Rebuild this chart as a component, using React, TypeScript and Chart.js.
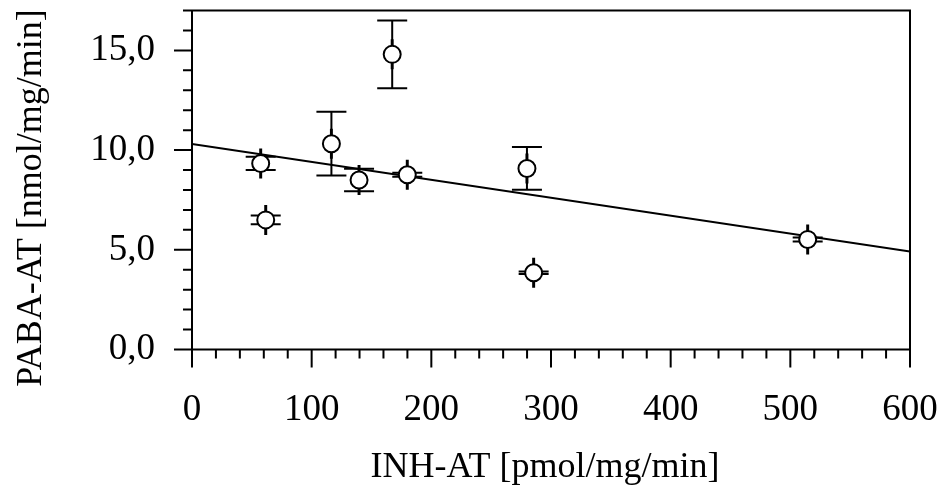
import { useEffect, useRef } from "react";
import { Chart, registerables } from "chart.js";

Chart.register(...registerables);

// INH-AT activity (x) versus PABA-AT activity (y), with standard errors
const inhAT = [57.4, 61.6, 116.5, 139.6, 167.3, 179.9, 279.9, 285.5, 514.5];
const pabaAT = [9.33, 6.5, 10.32, 8.5, 14.8, 8.76, 9.08, 3.85, 5.52];
const pabaErr = [0.33, 0.22, 1.6, 0.56, 1.7, 0.1, 1.07, 0.06, 0.1];
const inhErr = [0.4, 0.4, 0.4, 0.4, 0.4, 0.4, 0.4, 0.4, 0.4];

// linear regression line
const fitX = [0, 600];
const fitY = [10.3, 4.92];

// axes
const xTickValues = [0, 100, 200, 300, 400, 500, 600];
const yTickValues = [0, 5, 10, 15];
const xMinorStep = 20;
const yMinorStep = 1;
const xRange = [0, 600];
const yRange = [0, 17];

const xTitle = "INH-AT [pmol/mg/min]";
const yTitle = "PABA-AT [nmol/mg/min]";

const FONT = "'Liberation Serif', 'Times New Roman', serif";
const CAP = 15;
const MAJOR_LEN = 18;
const MINOR_LEN = 9;

const errorBars = {
  id: "errorBars",
  beforeDatasetsDraw(chart: any) {
    const { ctx, scales } = chart;
    const x = scales.x;
    const y = scales.y;
    ctx.save();
    ctx.strokeStyle = "#000";
    ctx.lineWidth = 2;
    ctx.lineCap = "butt";
    for (let i = 0; i < inhAT.length; i++) {
      const px = x.getPixelForValue(inhAT[i]);
      const py = y.getPixelForValue(pabaAT[i]);
      const yTop = y.getPixelForValue(pabaAT[i] + pabaErr[i]);
      const yBot = y.getPixelForValue(pabaAT[i] - pabaErr[i]);
      const xL = x.getPixelForValue(inhAT[i] - inhErr[i]);
      const xR = x.getPixelForValue(inhAT[i] + inhErr[i]);
      ctx.beginPath();
      // vertical error bar with caps
      ctx.moveTo(px, yTop);
      ctx.lineTo(px, yBot);
      ctx.moveTo(px - CAP, yTop);
      ctx.lineTo(px + CAP, yTop);
      ctx.moveTo(px - CAP, yBot);
      ctx.lineTo(px + CAP, yBot);
      // horizontal error bar with caps
      ctx.moveTo(xL, py);
      ctx.lineTo(xR, py);
      ctx.moveTo(xL, py - CAP);
      ctx.lineTo(xL, py + CAP);
      ctx.moveTo(xR, py - CAP);
      ctx.lineTo(xR, py + CAP);
      ctx.stroke();
    }
    ctx.restore();
  },
};

const frameAndTicks = {
  id: "frameAndTicks",
  afterDatasetsDraw(chart: any) {
    const { ctx, chartArea: a, scales } = chart;
    const x = scales.x;
    const y = scales.y;
    ctx.save();
    ctx.strokeStyle = "#000";
    ctx.lineWidth = 2;
    ctx.beginPath();
    ctx.rect(a.left, a.top, a.right - a.left, a.bottom - a.top);
    for (let v = xRange[0]; v <= xRange[1] + 1e-9; v += xMinorStep) {
      const px = x.getPixelForValue(v);
      const len = xTickValues.includes(v) ? MAJOR_LEN : MINOR_LEN;
      ctx.moveTo(px, a.bottom);
      ctx.lineTo(px, a.bottom + len);
    }
    for (let v = yRange[0]; v <= yRange[1] + 1e-9; v += yMinorStep) {
      const py = y.getPixelForValue(v);
      const len = yTickValues.includes(v) ? MAJOR_LEN : MINOR_LEN;
      ctx.moveTo(a.left, py);
      ctx.lineTo(a.left - len, py);
    }
    ctx.stroke();
    ctx.restore();
  },
};

// axis titles
const axisTitles = {
  id: "axisTitles",
  afterDraw(chart: any) {
    const { ctx } = chart;
    ctx.save();
    ctx.fillStyle = "#000";
    ctx.textAlign = "center";
    ctx.textBaseline = "middle";
    ctx.font = `36px ${FONT}`;
    ctx.fillText(xTitle, 545, 468);
    ctx.translate(32, 198);
    ctx.rotate(-Math.PI / 2);
    ctx.font = `36px ${FONT}`;
    ctx.fillText(yTitle, 0, 0);
    ctx.restore();
  },
};

const zeroPadding = (s: any) => {
  s.paddingTop = 0;
  s.paddingBottom = 0;
  s.paddingLeft = 0;
  s.paddingRight = 0;
};

export default function App() {
  const canvasRef = useRef<HTMLCanvasElement | null>(null);

  useEffect(() => {
    const canvas = canvasRef.current;
    if (!canvas) return;
    const chart = new Chart(canvas, {
      type: "scatter",
      data: {
        datasets: [
          {
            label: "PABA-AT",
            data: inhAT.map((v, i) => ({ x: v, y: pabaAT[i] })),
            pointRadius: 8.5,
            pointHoverRadius: 8.5,
            pointBackgroundColor: "#fff",
            pointBorderColor: "#000",
            pointBorderWidth: 2,
            showLine: false,
          },
          {
            label: "Regression",
            data: fitX.map((v, i) => ({ x: v, y: fitY[i] })),
            showLine: true,
            borderColor: "#000",
            borderWidth: 2,
            pointRadius: 0,
            fill: false,
          },
        ],
      },
      options: {
        animation: false,
        responsive: true,
        maintainAspectRatio: false,
        events: [],
        layout: { padding: { top: 9, right: 31, left: 0, bottom: 0 } },
        plugins: {
          legend: { display: false },
          tooltip: { enabled: false },
        },
        scales: {
          x: {
            type: "linear",
            min: xRange[0],
            max: xRange[1],
            afterBuildTicks: (s: any) => {
              s.ticks = xTickValues.map((v) => ({ value: v }));
            },
            afterFit: (s: any) => {
              s.height = 146.5;
              zeroPadding(s);
            },
            grid: {
              drawOnChartArea: false,
              drawTicks: true,
              tickLength: MAJOR_LEN,
              color: "rgba(0,0,0,0)",
            },
            border: { display: false },
            ticks: {
              color: "#000",
              font: { family: FONT, size: 37 },
              padding: 21,
              maxRotation: 0,
              callback: (v: any) => String(v),
            },
            title: { display: false },
          },
          y: {
            type: "linear",
            min: yRange[0],
            max: yRange[1],
            afterBuildTicks: (s: any) => {
              s.ticks = yTickValues.map((v) => ({ value: v }));
            },
            afterFit: (s: any) => {
              s.width = 192;
              zeroPadding(s);
            },
            grid: {
              drawOnChartArea: false,
              drawTicks: true,
              tickLength: MAJOR_LEN,
              color: "rgba(0,0,0,0)",
            },
            border: { display: false },
            ticks: {
              color: "#000",
              font: { family: FONT, size: 37 },
              padding: 19,
              callback: (v: any) => Number(v).toFixed(1).replace(".", ","),
            },
            title: { display: false },
          },
        },
      },
      plugins: [errorBars, frameAndTicks, axisTitles],
    });
    return () => chart.destroy();
  }, []);

  return (
    <div style={{ position: "absolute", left: 0, top: 0, width: 941, height: 496, background: "#fff" }}>
      <canvas ref={canvasRef} />
    </div>
  );
}
